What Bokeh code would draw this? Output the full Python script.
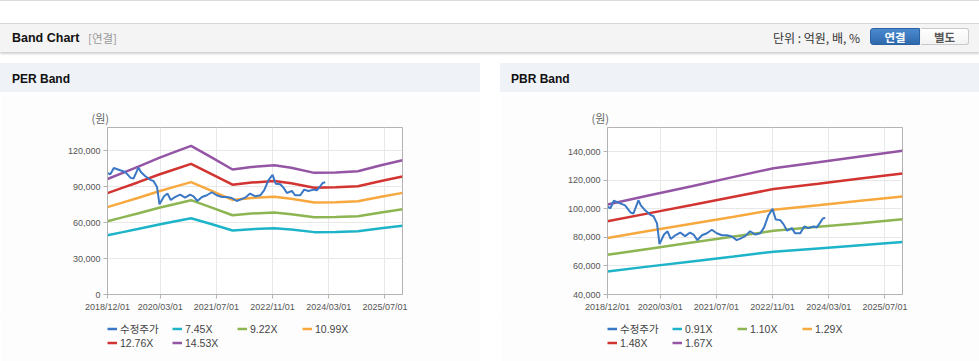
from bokeh.plotting import figure
from bokeh.models import (Div, FixedTicker, NumeralTickFormatter, Legend, LegendItem,
                          Range1d, Title)
from bokeh.layouts import column, row
from bokeh.embed import file_html
from bokeh.resources import INLINE

# ---------------- data ----------------
# x positions are months counted from 2018/12/01
x_tick_months = [0, 15, 31, 47, 63, 79]
x_tick_labels = ["2018/12/01", "2020/03/01", "2021/07/01", "2022/11/01", "2024/03/01", "2025/07/01"]

price_month = [0.0, 0.8, 1.8, 3.6, 5.0, 6.6, 7.4, 8.8, 9.5, 10.7, 12.2, 13.1, 14.1, 14.8, 16.1,
               17.1, 18.0, 19.3, 20.7, 22.1, 23.5, 24.5, 25.6, 26.9, 28.3, 29.7, 31.1, 32.6,
               34.0, 35.4, 36.8, 37.8, 39.2, 40.6, 42.1, 43.5, 44.6, 45.8, 47.0, 47.9, 49.2,
               50.1, 51.1, 52.5, 53.4, 54.9, 56.0, 57.2, 58.7, 59.6, 60.4, 61.3, 62.0]
price_value = [101600, 100400, 105700, 103800, 102400, 97400, 96800, 106000, 102400, 99000,
               95800, 94800, 89800, 75300, 82000, 84300, 78900, 81500, 83400, 80900, 83400,
               82000, 78100, 81500, 82900, 85400, 82900, 81500, 81500, 80600, 78100, 79200,
               80900, 84300, 82000, 82900, 87000, 95400, 100000, 92600, 92100, 89300, 84800,
               86500, 82900, 82900, 87600, 86500, 87600, 87000, 89800, 93200, 93700]

per_band_month = [0, 4, 8.6, 14.7, 19, 23.8, 29.5, 35.6, 41, 47.5, 52.3, 58.9, 65, 71.3, 77.9, 84]
per_745 = [49500, 51900, 54700, 58500, 61000, 63700, 58900, 53500, 54600, 55400, 54200, 52100, 52200, 52800, 55400, 57500]
per_922 = [61200, 64200, 67600, 72400, 75400, 78800, 72800, 66200, 67600, 68500, 67100, 64500, 64700, 65400, 68500, 71200]
per_1099 = [73000, 76500, 80600, 86300, 89900, 93900, 86800, 79000, 80600, 81700, 80000, 76800, 77100, 77900, 81700, 84900]
per_1276 = [84700, 88900, 93600, 100200, 104400, 109100, 100800, 91700, 93500, 94800, 92900, 89200, 89500, 90500, 94800, 98500]
per_1453 = [96500, 101200, 106600, 114100, 118900, 124200, 114800, 104400, 106500, 108000, 105800, 101600, 101900, 103000, 108000, 112200]
per_labels = ["7.45X", "9.22X", "10.99X", "12.76X", "14.53X"]
per_yticks = [0, 30000, 60000, 90000, 120000]

pbr_band_month = [0, 12, 24, 36, 47.3, 60, 72, 84]
pbr_091 = [56100, 59700, 63200, 66700, 70000, 72300, 74500, 76700]
pbr_110 = [67800, 72100, 76400, 80600, 84600, 87400, 90000, 92700]
pbr_129 = [79600, 84600, 89600, 94500, 99300, 102500, 105600, 108700]
pbr_148 = [91300, 97000, 102700, 108500, 113900, 117600, 121200, 124700]
pbr_167 = [103000, 109500, 115900, 122400, 128500, 132700, 136700, 140700]
pbr_labels = ["0.91X", "1.10X", "1.29X", "1.48X", "1.67X"]
pbr_yticks = [40000, 60000, 80000, 100000, 120000, 140000]

price_label = "수정주가"
band_colors = ["#1db4c9", "#8db552", "#f7a83e", "#d23431", "#9455a5"]
price_color = "#3a78c6"

PANEL_BG = "#fdfdfd"
AXIS_C = "#b3b3b3"
GRID_C = "#e8e8e8"
FONT = "Liberation Sans, Noto Sans CJK KR"


def make_chart(width, left, right, y_lo, y_hi, yticks, band_x, bands):
    p = figure(width=width, height=226, output_backend="svg", toolbar_location=None,
               x_range=Range1d(0, 84), y_range=Range1d(y_lo, y_hi),
               min_border_left=left, min_border_right=right,
               min_border_top=35, min_border_bottom=24,
               background_fill_color="white", border_fill_color=PANEL_BG,
               outline_line_color=AXIS_C, outline_line_width=1)
    p.margin = 0
    p.title = Title(text="(원)", align="left", offset=-16, standoff=3,
                    text_font_size="11px", text_font="Noto Sans CJK KR",
                    text_font_style="normal", text_color="#666666")
    for vals, c in zip(bands, band_colors):
        p.line(band_x, vals, line_color=c, line_width=2.5)
    p.line(price_month, price_value, line_color=price_color, line_width=2)

    p.xaxis.ticker = FixedTicker(ticks=x_tick_months)
    p.xaxis.major_label_overrides = {m: l for m, l in zip(x_tick_months, x_tick_labels)}
    p.yaxis.ticker = FixedTicker(ticks=yticks)
    p.yaxis.formatter = NumeralTickFormatter(format="0,0")
    for ax in (p.xaxis, p.yaxis):
        ax.axis_line_color = AXIS_C
        ax.major_tick_line_color = AXIS_C
        ax.major_tick_out = 4
        ax.major_tick_in = 0
        ax.minor_tick_line_color = None
        ax.major_label_text_font = FONT
        ax.major_label_text_font_size = "9px"
        ax.major_label_text_color = "#555555"
        ax.major_label_standoff = 3
    p.xgrid.grid_line_color = GRID_C
    p.ygrid.grid_line_color = GRID_C
    return p


def make_legend(width, left, right, band_x, bands, labels):
    # legend-only strip; its frame is aligned with the chart frame above it.
    # Series are drawn outside the visible range so only the legend shows.
    lp = figure(width=width, height=43, output_backend="svg", toolbar_location=None,
                x_axis_type=None, y_axis_type=None,
                x_range=Range1d(0, 84), y_range=Range1d(-3e6, -2e6),
                min_border_left=left, min_border_right=right, min_border_top=0, min_border_bottom=0,
                background_fill_color=PANEL_BG, border_fill_color=PANEL_BG,
                outline_line_color=None)
    lp.margin = 0
    lp.xgrid.visible = False
    lp.ygrid.visible = False
    pr = lp.line(price_month, price_value, line_color=price_color, line_width=2.5)
    items = [LegendItem(label=price_label, renderers=[pr])]
    for vals, c, l in zip(bands, band_colors, labels):
        r = lp.line(band_x, vals, line_color=c, line_width=2.5)
        items.append(LegendItem(label=l, renderers=[r]))
    leg = Legend(items=items, orientation="horizontal", ncols=4, location=(0, 12),
                 padding=0, margin=0, spacing=0, border_line_color=None,
                 background_fill_alpha=0, glyph_width=10, glyph_height=13,
                 label_height=13, label_width=52, label_standoff=3,
                 label_text_font=FONT, label_text_font_size="10.5px",
                 label_text_line_height=1.0,
                 label_text_color="#444444")
    lp.add_layout(leg, "center")
    return lp


per_bands = [per_745, per_922, per_1099, per_1276, per_1453]
pbr_bands = [pbr_091, pbr_110, pbr_129, pbr_148, pbr_167]
per = make_chart(480, 107, 78, 0, 139500, per_yticks, per_band_month, per_bands)
pbr = make_chart(479, 107, 77, 40000, 157000, pbr_yticks, pbr_band_month, pbr_bands)
per_leg = make_legend(480, 107, 78, per_band_month, per_bands, per_labels)
pbr_leg = make_legend(479, 107, 77, pbr_band_month, pbr_bands, pbr_labels)

header_html = """
<div style="position:relative;width:979px;height:63px;overflow:hidden;background:#fff;
            font-family:'Liberation Sans','Noto Sans CJK KR',sans-serif;">
  <div style="position:absolute;left:0px;top:0px;width:979px;height:1px;background:#dcdcdc;"></div>
  <div style="position:absolute;left:0px;top:23px;width:979px;height:29px;background:#f4f4f4;
              border-top:1px solid #d6d6d6;box-shadow:0 2px 2px rgba(0,0,0,0.18);"></div>
  <div style="position:absolute;left:12px;top:30px;font-size:12.5px;font-weight:bold;color:#111;">Band Chart</div>
  <div style="position:absolute;left:88px;top:31px;font-size:11.5px;color:#999;font-family:'Noto Sans CJK KR';line-height:15px;">[연결]</div>
  <div style="position:absolute;left:773px;top:30px;font-size:12px;color:#333;font-family:'Noto Sans CJK KR';line-height:16px;">단위 : 억원, 배, %</div>
  <div style="position:absolute;left:870px;top:28px;width:50px;height:17px;border:1px solid #2d62a3;
              border-radius:3px 0 0 3px;background:linear-gradient(#4b8ad0,#2f69ac);color:#fff;
              font-size:11.5px;font-weight:bold;text-align:center;line-height:17px;font-family:'Noto Sans CJK KR';">연결</div>
  <div style="position:absolute;left:921px;top:28px;width:48px;height:17px;border:1px solid #c9c9c9;border-left:none;
              border-radius:0 3px 3px 0;background:linear-gradient(#ffffff,#f3f3f3);color:#555;
              font-size:11.5px;font-weight:bold;text-align:center;line-height:17px;font-family:'Noto Sans CJK KR';">별도</div>
</div>
"""
header = Div(text=header_html, width=979, height=63, margin=0)


def title_div(text, w, left):
    html = ('<div style="position:relative;width:%dpx;height:29px;background:#eff2f7;'
            'font-family:\'Liberation Sans\',sans-serif;">'
            '<div style="position:absolute;left:%dpx;top:8px;font-size:12px;font-weight:bold;color:#111;">%s</div>'
            '</div>') % (w, left, text)
    return Div(text=html, width=w, height=29, margin=0)


per_col = column(title_div("PER Band", 480, 12), per, per_leg, spacing=0, margin=0)
pbr_col = column(title_div("PBR Band", 479, 11), pbr, pbr_leg, spacing=0, margin=0)
gap = Div(text='<div style="width:20px;height:298px;background:#fff;"></div>', width=20, height=298, margin=0)
body = row(per_col, gap, pbr_col, spacing=0, margin=0)
page = column(header, body, spacing=0, margin=0)

open("out.html", "w").write(file_html(page, INLINE))
